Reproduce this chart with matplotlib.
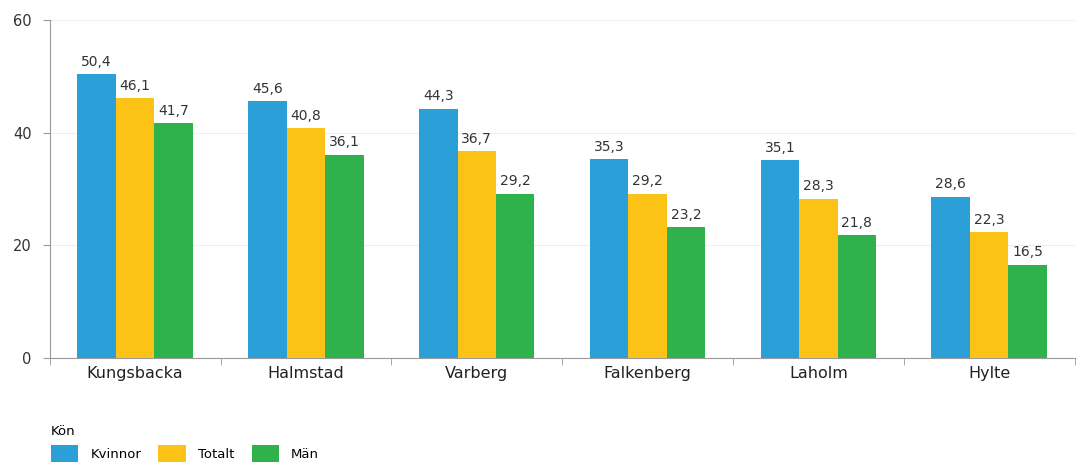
import matplotlib.pyplot as plt
import numpy as np
from matplotlib.patches import Patch

kommuner = ["Kungsbacka", "Halmstad", "Varberg", "Falkenberg", "Laholm", "Hylte"]
kvinnor = [50.4, 45.6, 44.3, 35.3, 35.1, 28.6]
totalt = [46.1, 40.8, 36.7, 29.2, 28.3, 22.3]
man = [41.7, 36.1, 29.2, 23.2, 21.8, 16.5]
serier = ["Kvinnor", "Totalt", "Män"]
farger = ["#2a9fd8", "#fcc316", "#2fb24c"]

fig = plt.figure(figsize=(10.81, 4.68), dpi=100)
ax = fig.add_axes([0.046, 0.235, 0.948, 0.722])

x = np.arange(len(kommuner))
w = 0.225
for i, (vals, col) in enumerate(zip([kvinnor, totalt, man], farger)):
    pos = x + (i - 1) * w
    ax.bar(pos, vals, width=w, color=col, zorder=3)
    for p, v in zip(pos, vals):
        ax.text(p, v + 1.0, f"{v:.1f}".replace(".", ","), ha="center", va="bottom",
                fontsize=10, color="#333333")

ax.set_xlim(-0.5, len(kommuner) - 0.5)
ax.set_ylim(0, 60)
ax.set_yticks([0, 20, 40, 60])
ax.set_yticklabels(["0", "20", "40", "60"], fontsize=10.5, color="#333333")
ax.yaxis.grid(True, color="#eeeeee", linewidth=0.8, zorder=0)

ax.set_xticks(x)
ax.set_xticklabels(kommuner, fontsize=11.5, color="#222222")
ax.set_xticks(np.arange(len(kommuner) + 1) - 0.5, minor=True)
ax.tick_params(axis="x", which="major", length=0, pad=6)
ax.tick_params(axis="x", which="minor", length=5, color="#999999", direction="out")
ax.tick_params(axis="y", length=5, color="#999999", pad=8)

for s in ["top", "right"]:
    ax.spines[s].set_visible(False)
ax.spines["left"].set_color("#999999")
ax.spines["bottom"].set_color("#999999")

handles = [Patch(facecolor=c, label=s) for s, c in zip(serier, farger)]
fig.legend(handles=handles, loc="lower left", bbox_to_anchor=(0.036, -0.012), ncol=3,
           frameon=False, title="Kön", title_fontsize=9.5, fontsize=9.5,
           handlelength=2.1, handleheight=1.6, columnspacing=1.3, handletextpad=0.9,
           alignment="left")

fig.savefig("out.png", dpi=100)
